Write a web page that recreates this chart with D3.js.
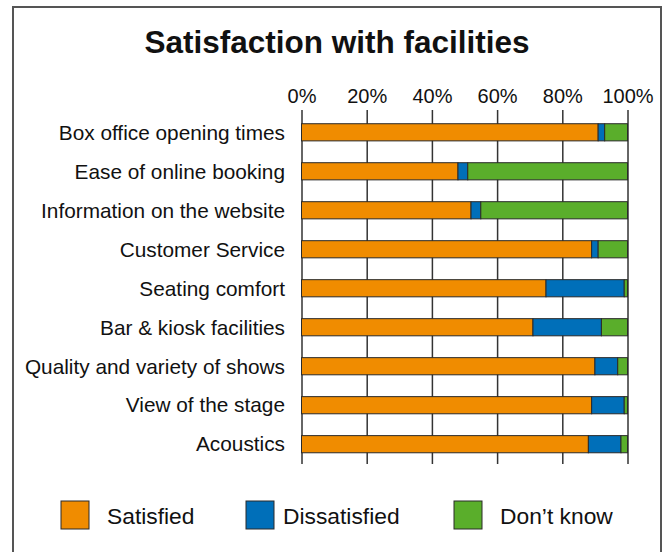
<!DOCTYPE html>
<html>
<head>
<meta charset="utf-8">
<script src="https://cdn.jsdelivr.net/npm/d3@7"></script>
<style>
    body { margin: 0; background: #fff; }
    svg text { font-family: "Liberation Sans", Arial, Helvetica, sans-serif; fill: #111; }
</style>
</head>
<body>
<svg width="668" height="552"></svg>
<script>
// data (percent of respondents)
var categories = [
    "Box office opening times",
    "Ease of online booking",
    "Information on the website",
    "Customer Service",
    "Seating comfort",
    "Bar & kiosk facilities",
    "Quality and variety of shows",
    "View of the stage",
    "Acoustics"
];
var satisfied    = [91, 48, 52, 89, 75, 71, 90, 89, 88];
var dissatisfied = [2, 3, 3, 2, 24, 21, 7, 10, 10];
var dontKnow     = [7, 49, 45, 9, 1, 8, 3, 1, 2];
var seriesNames = ["Satisfied", "Dissatisfied", "Don\u2019t know"];
var seriesColors = ["#f08c00", "#006fb9", "#5aae2b"];
var tickValues = [0, 20, 40, 60, 80, 100];

function main() {
    var svg = d3.select("svg");

    // outer frame
    svg.append("rect")
        .attr("x", 13).attr("y", 7)
        .attr("width", 648).attr("height", 560)
        .attr("fill", "none")
        .attr("stroke", "#555")
        .attr("stroke-width", 2);

    svg.append("text")
        .attr("x", 337)
        .attr("y", 53)
        .attr("text-anchor", "middle")
        .attr("font-size", "31.5px")
        .attr("font-weight", "bold")
        .text("Satisfaction with facilities");

    var rows = categories.map(function (c, i) {
        return { cat: c, Satisfied: satisfied[i], Dissatisfied: dissatisfied[i], "Don\u2019t know": dontKnow[i] };
    });

    var xScale = d3.scaleLinear().domain([0, 100]).range([301.5, 627.5]);
    var yScale = d3.scaleBand().domain(categories).range([110, 464])
        .paddingInner(0.56).paddingOuter(0.32).align(0.55);
    var color = d3.scaleOrdinal().domain(seriesNames).range(seriesColors);

    // grid lines + top tick labels
    var xAxis = d3.axisTop(xScale)
        .tickValues(tickValues)
        .tickSize(-(464 - 110))
        .tickFormat(function (d) { return d + "%"; });

    var gx = svg.append("g")
        .attr("transform", "translate(0,110)")
        .call(xAxis);
    gx.select(".domain").remove();
    gx.selectAll(".tick line")
        .attr("stroke", "#333")
        .attr("stroke-width", 1.5);
    gx.selectAll(".tick text")
        .attr("y", -7)
        .attr("font-size", "20px")
        .attr("fill", "#111");

    var stacked = d3.stack().keys(seriesNames)(rows);

    svg.append("g").selectAll("g")
        .data(stacked)
        .enter().append("g")
        .attr("fill", function (d) { return color(d.key); })
        .selectAll("rect")
        .data(function (d) { return d; })
        .enter().append("rect")
        .attr("x", function (d) { return xScale(d[0]); })
        .attr("y", function (d) { return yScale(d.data.cat); })
        .attr("width", function (d) { return xScale(d[1]) - xScale(d[0]); })
        .attr("height", yScale.bandwidth())
        .attr("stroke", "#2a2a2a")
        .attr("stroke-width", 1);

    // category labels
    svg.append("g").selectAll("text")
        .data(categories)
        .enter().append("text")
        .attr("x", 285)
        .attr("y", function (d) { return yScale(d) + yScale.bandwidth() / 2; })
        .attr("dy", "0.35em")
        .attr("text-anchor", "end")
        .attr("font-size", "20.8px")
        .text(function (d) { return d; });

    // legend
    var legendX = [61, 246, 454];
    var legend = svg.append("g").selectAll("g")
        .data(seriesNames)
        .enter().append("g")
        .attr("transform", function (d, i) { return "translate(" + legendX[i] + ",501)"; });
    legend.append("rect")
        .attr("width", 28).attr("height", 28)
        .attr("fill", function (d) { return color(d); })
        .attr("stroke", "#2a2a2a")
        .attr("stroke-width", 1);
    legend.append("text")
        .attr("x", function (d, i) { return [46, 37, 46][i]; })
        .attr("y", 23)
        .attr("font-size", "22.8px")
        .text(function (d) { return d; });
}
main();
</script>
</body>
</html>
